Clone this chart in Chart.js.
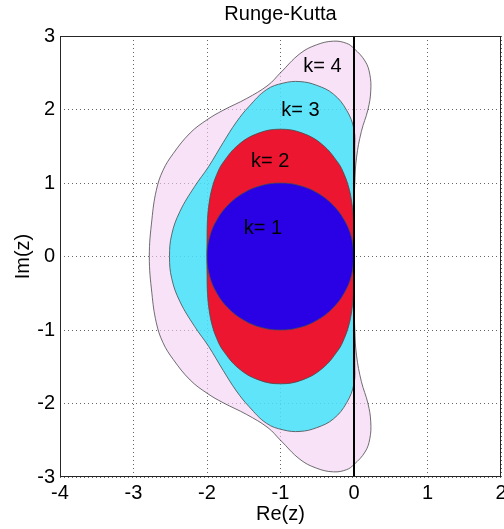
<!DOCTYPE html>
<html>
<head>
<meta charset="utf-8">
<title>Runge-Kutta</title>
<script src="https://cdn.jsdelivr.net/npm/chart.js@4.4.1/dist/chart.umd.min.js"></script>
<style>
  html, body { margin: 0; padding: 0; background: #fff; }
</style>
</head>
<body>
<canvas id="c" width="504" height="529"></canvas>
<script>
// stability region boundaries (Re, Im)
const k1Re = [0, -0.034, -0.134, -0.293, -0.5, -0.741, -1, -1.259, -1.5, -1.707, -1.866, -1.966, -2,
  -1.966, -1.866, -1.707, -1.5, -1.259, -1, -0.741, -0.5, -0.293, -0.134, -0.034, 0];
const k1Im = [0, 0.259, 0.5, 0.707, 0.866, 0.966, 1, 0.966, 0.866, 0.707, 0.5, 0.259, 0,
  -0.259, -0.5, -0.707, -0.866, -0.966, -1, -0.966, -0.866, -0.707, -0.5, -0.259, 0];

const k2Re = [0, -0.001, -0.007, -0.029, -0.069, -0.131, -0.214, -0.432, -0.702, -1, -1.298, -1.568, -1.786, -1.869, -1.931, -1.971, -1.993, -1.999, -2,
  -1.999, -1.993, -1.971, -1.931, -1.869, -1.786, -1.568, -1.298, -1, -0.702, -0.432, -0.214, -0.131, -0.069, -0.029, -0.007, -0.001, 0];
const k2Im = [0, 0.259, 0.504, 0.728, 0.931, 1.112, 1.272, 1.524, 1.679, 1.732, 1.679, 1.524, 1.272, 1.112, 0.931, 0.728, 0.504, 0.259, 0,
  -0.259, -0.504, -0.728, -0.931, -1.112, -1.272, -1.524, -1.679, -1.732, -1.679, -1.524, -1.272, -1.112, -0.931, -0.728, -0.504, -0.259, 0];

const k3Re = [0, 0.002, 0.008, 0.01, 0, -0.1, -0.28, -0.51, -0.735, -0.96, -1.19, -1.43, -1.6, -1.78, -1.98, -2.17, -2.37, -2.48, -2.51,
  -2.48, -2.37, -2.17, -1.98, -1.78, -1.6, -1.43, -1.19, -0.96, -0.735, -0.51, -0.28, -0.1, 0, 0.01, 0.008, 0.002, 0];
const k3Im = [0, 0.5, 1.0, 1.45, 1.73, 1.99, 2.21, 2.33, 2.38, 2.36, 2.27, 2.04, 1.83, 1.55, 1.22, 0.95, 0.61, 0.3, 0,
  -0.3, -0.61, -0.95, -1.22, -1.55, -1.83, -2.04, -2.27, -2.36, -2.38, -2.33, -2.21, -1.99, -1.73, -1.45, -1.0, -0.5, 0];

const k4Re = [0, 0.002, 0.01, 0.035, 0.1, 0.19, 0.228, 0.215, 0.15, 0, -0.1, -0.28, -0.51, -0.735, -1, -1.17, -1.46, -1.78, -2, -2.23, -2.46, -2.6, -2.69, -2.75, -2.785,
  -2.75, -2.69, -2.6, -2.46, -2.23, -2, -1.78, -1.46, -1.17, -1, -0.735, -0.51, -0.28, -0.1, 0, 0.15, 0.215, 0.228, 0.19, 0.1, 0.035, 0.01, 0.002, 0];
const k4Im = [0, 0.5, 1.0, 1.35, 1.7, 2.0, 2.25, 2.48, 2.66, 2.83, 2.9, 2.93, 2.88, 2.76, 2.5, 2.33, 2.15, 1.99, 1.86, 1.68, 1.4, 1.17, 0.9, 0.5, 0,
  -0.5, -0.9, -1.17, -1.4, -1.68, -1.86, -1.99, -2.15, -2.33, -2.5, -2.76, -2.88, -2.93, -2.9, -2.83, -2.66, -2.48, -2.25, -2.0, -1.7, -1.35, -1.0, -0.5, 0];

// imaginary axis line
const axisRe = [0, 0];
const axisIm = [-3, 3];

// region labels
const labelText = ["k= 1", "k= 2", "k= 3", "k= 4"];
const labelRe = [-1.5, -1.4, -0.99, -0.69];
const labelIm = [0.375, 1.29, 1.98, 2.585];

const xTicks = [-4, -3, -2, -1, 0, 1, 2];
const yTicks = [-3, -2, -1, 0, 1, 2, 3];

const FONT = '"Liberation Sans", Arial, sans-serif';
const toPts = (re, im) => re.map((v, i) => ({ x: v, y: im[i] }));

const region = (label, re, im, color, order) => ({
  label: label,
  data: toPts(re, im),
  showLine: true,
  fill: "shape",
  backgroundColor: color,
  borderColor: "#4a4a4a",
  borderWidth: 0.8,
  pointRadius: 0,
  tension: 0.4,
  order: order,
});

// titel, kotak, label k
const decor = {
  id: "decor",
  afterDatasetsDraw(chart) {
    const { ctx, chartArea: a, scales } = chart;
    ctx.save();
    ctx.fillStyle = "#000";
    ctx.font = "20px " + FONT;
    ctx.textAlign = "left";
    ctx.textBaseline = "middle";
    labelText.forEach((t, i) => {
      ctx.fillText(t, scales.x.getPixelForValue(labelRe[i]), scales.y.getPixelForValue(labelIm[i]));
    });
    ctx.strokeStyle = "#262626";
    ctx.lineWidth = 1;
    ctx.strokeRect(a.left + 0.5, a.top + 0.5, a.right - a.left - 1, a.bottom - a.top - 1);
    ctx.textAlign = "center";
    ctx.fillText("Runge-Kutta", (a.left + a.right) / 2, 14);
    ctx.restore();
  },
};

new Chart(document.getElementById("c"), {
  type: "scatter",
  data: {
    datasets: [
      {
        label: "Re=0",
        data: toPts(axisRe, axisIm),
        showLine: true,
        fill: false,
        borderColor: "#000",
        borderWidth: 2,
        pointRadius: 0,
        order: 0,
      },
      region("k=1", k1Re, k1Im, "#2a00e4", 1),
      region("k=2", k2Re, k2Im, "#ec1631", 2),
      region("k=3", k3Re, k3Im, "rgba(31,229,251,0.7)", 3),
      region("k=4", k4Re, k4Im, "rgba(243,207,243,0.6)", 4),
    ],
  },
  options: {
    responsive: false,
    animation: false,
    layout: { padding: { top: 36, right: 3, left: 0, bottom: 0 } },
    plugins: {
      legend: { display: false },
      title: { display: false },
      tooltip: { enabled: false },
    },
    scales: {
      x: {
        type: "linear",
        min: -4,
        max: 2,
        afterBuildTicks: (s) => { s.ticks = xTicks.map((v) => ({ value: v })); },
        afterFit: (s) => { s.height = 52; s.paddingLeft = 0; s.paddingRight = 0; },
        grid: { color: "rgba(50,50,50,0.75)", lineWidth: 1, drawTicks: false },
        border: { display: false, dash: [1, 3] },
        ticks: {
          color: "#000",
          font: { family: FONT, size: 20 },
          padding: 4,
          maxRotation: 0,
          autoSkip: false,
          callback: (v) => String(v),
        },
        title: {
          display: true,
          text: "Re(z)",
          color: "#000",
          font: { family: FONT, size: 20 },
          padding: { top: 0, bottom: 3 },
        },
      },
      y: {
        type: "linear",
        min: -3,
        max: 3,
        afterBuildTicks: (s) => { s.ticks = yTicks.map((v) => ({ value: v })); },
        afterFit: (s) => { s.width = 60; s.paddingTop = 0; s.paddingBottom = 0; },
        grid: { color: "rgba(50,50,50,0.75)", lineWidth: 1, drawTicks: false },
        border: { display: false, dash: [1, 3] },
        ticks: {
          color: "#000",
          font: { family: FONT, size: 20 },
          padding: 5,
          autoSkip: false,
          callback: (v) => String(v),
        },
        title: {
          display: true,
          text: "Im(z)",
          color: "#000",
          font: { family: FONT, size: 20 },
          padding: { top: 11, bottom: 0 },
        },
      },
    },
  },
  plugins: [decor],
});
</script>
</body>
</html>
